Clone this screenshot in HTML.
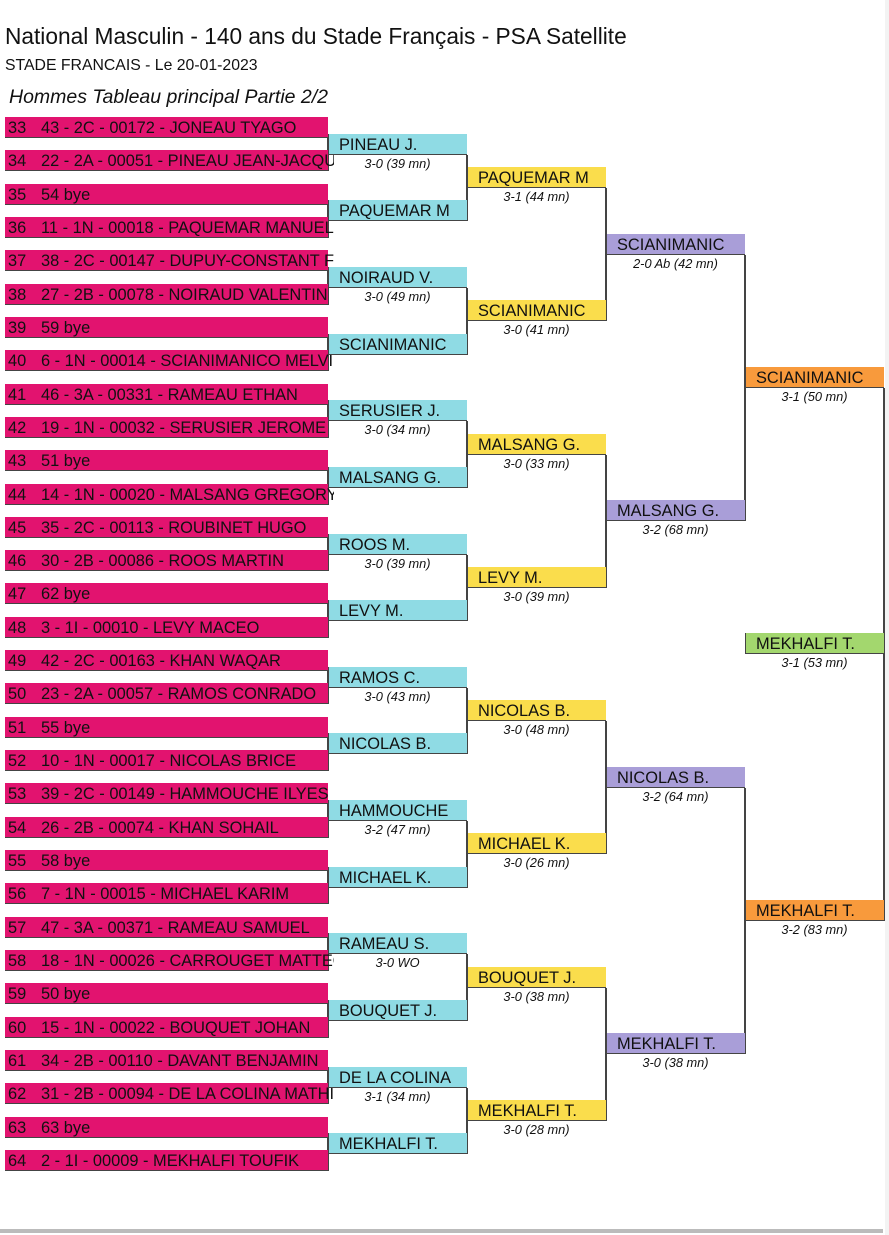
<!DOCTYPE html>
<html><head><meta charset="utf-8">
<style>
html,body{margin:0;padding:0;background:#fff;}
body{width:889px;height:1235px;position:relative;overflow:hidden;font-family:"Liberation Sans",sans-serif;color:#111;}
.t{position:absolute;white-space:nowrap;}
.box{position:absolute;box-sizing:border-box;border-bottom:1.5px solid #444;font-size:16.4px;line-height:22px;white-space:nowrap;overflow:hidden;}
.r1{background:#e2136f;color:#111;}
.sc{position:absolute;font-size:12.8px;font-style:italic;text-align:center;white-space:nowrap;}
.vl{position:absolute;width:1.5px;background:#444;}
</style></head><body>
<div class="t" style="left:5px;top:23px;font-size:22.7px;">National Masculin - 140 ans du Stade Français - PSA Satellite</div>
<div class="t" style="left:5px;top:57px;font-size:15.8px;">STADE FRANCAIS - Le 20-01-2023</div>
<div class="t" style="left:9px;top:86px;font-size:19.5px;font-style:italic;">Hommes Tableau principal Partie 2/2</div>
<div id="b"></div>
<div style="position:absolute;left:0;top:1229px;width:883px;height:4px;background:#bbb;"></div>
<div style="position:absolute;left:885px;top:0;width:4px;height:1235px;background:#f3f3f3;"></div>
<script>
const entries=["43 - 2C - 00172 - JONEAU TYAGO","22 - 2A - 00051 - PINEAU JEAN-JACQUES","54 bye","11 - 1N - 00018 - PAQUEMAR MANUEL","38 - 2C - 00147 - DUPUY-CONSTANT F","27 - 2B - 00078 - NOIRAUD VALENTIN","59 bye","6 - 1N - 00014 - SCIANIMANICO MELVIN","46 - 3A - 00331 - RAMEAU ETHAN","19 - 1N - 00032 - SERUSIER JEROME","51 bye","14 - 1N - 00020 - MALSANG GREGORY","35 - 2C - 00113 - ROUBINET HUGO","30 - 2B - 00086 - ROOS MARTIN","62 bye","3 - 1I - 00010 - LEVY MACEO","42 - 2C - 00163 - KHAN WAQAR","23 - 2A - 00057 - RAMOS CONRADO","55 bye","10 - 1N - 00017 - NICOLAS BRICE","39 - 2C - 00149 - HAMMOUCHE ILYES","26 - 2B - 00074 - KHAN SOHAIL","58 bye","7 - 1N - 00015 - MICHAEL KARIM","47 - 3A - 00371 - RAMEAU SAMUEL","18 - 1N - 00026 - CARROUGET MATTEO","50 bye","15 - 1N - 00022 - BOUQUET JOHAN","34 - 2B - 00110 - DAVANT BENJAMIN","31 - 2B - 00094 - DE LA COLINA MATHIS","63 bye","2 - 1I - 00009 - MEKHALFI TOUFIK"];
const r2Names=["PINEAU J.","PAQUEMAR M","NOIRAUD V.","SCIANIMANIC","SERUSIER J.","MALSANG G.","ROOS M.","LEVY M.","RAMOS C.","NICOLAS B.","HAMMOUCHE","MICHAEL K.","RAMEAU S.","BOUQUET J.","DE LA COLINA","MEKHALFI T."];
const r2Scores=["3-0 (39 mn)","","3-0 (49 mn)","","3-0 (34 mn)","","3-0 (39 mn)","","3-0 (43 mn)","","3-2 (47 mn)","","3-0 WO","","3-1 (34 mn)",""];
const r3Names=["PAQUEMAR M","SCIANIMANIC","MALSANG G.","LEVY M.","NICOLAS B.","MICHAEL K.","BOUQUET J.","MEKHALFI T."];
const r3Scores=["3-1 (44 mn)","3-0 (41 mn)","3-0 (33 mn)","3-0 (39 mn)","3-0 (48 mn)","3-0 (26 mn)","3-0 (38 mn)","3-0 (28 mn)"];
const r4Names=["SCIANIMANIC","MALSANG G.","NICOLAS B.","MEKHALFI T."];
const r4Scores=["2-0 Ab (42 mn)","3-2 (68 mn)","3-2 (64 mn)","3-0 (38 mn)"];
const r5Names=["SCIANIMANIC","MEKHALFI T."];
const r5Scores=["3-1 (50 mn)","3-2 (83 mn)"];
const finalNames=["MEKHALFI T."];
const finalScores=["3-1 (53 mn)"];

const B=document.getElementById('b');
const ROW=33.32, TOP=117, H=21;
const colors=["#8fdbe4","#fadd4c","#a99ed8","#f89a3c","#a3d76e"];
function boxTop(r,k){return TOP+ROW/2*(Math.pow(2,r)-1)+k*ROW*Math.pow(2,r);}
function vline(x,y1,y2,name){const v=document.createElement('div');v.className='vl';


v.style.left=(x-1)+'px';v.style.top=y1+'px';v.style.height=(y2-y1)+'px';B.appendChild(v);}
entries.forEach((e,i)=>{const d=document.createElement('div');d.className='box r1';


const y=TOP+i*ROW;d.style.cssText=`left:5px;top:${y}px;width:323px;height:${H}px;overflow:visible;`;
d.innerHTML=`<span style="position:absolute;left:3px;top:0">${33+i}</span><span style="position:absolute;left:36px;top:0;width:293px;overflow:hidden;">${e}</span>`;
B.appendChild(d);
if(i%2===0) vline(328,y+H,TOP+(i+1)*ROW+H,'connector-r1');});
const rounds=[[r2Names,r2Scores],[r3Names,r3Scores],[r4Names,r4Scores],[r5Names,r5Scores],[finalNames,finalScores]];
rounds.forEach(([names,scores],ri)=>{const r=ri+1;const x=ri<4?328+ri*139:745;
names.forEach((n,k)=>{const y=boxTop(r,k);const d=document.createElement('div');d.className='box';


d.style.cssText=`left:${x}px;top:${y}px;width:139px;height:${H}px;background:${colors[ri]};padding-left:10px;border-left:1.5px solid #444;`;
d.textContent=n;B.appendChild(d);
if(scores[k]){const s=document.createElement('div');s.className='sc';


s.style.cssText=`left:${x}px;top:${y+H+1}px;width:139px;`;s.textContent=scores[k];B.appendChild(s);}
if(ri<4&&k%2===0) vline(x+139,y+H,boxTop(r,k+1)+H,'connector-r'+(r+1));});});
</script>
</body></html>
